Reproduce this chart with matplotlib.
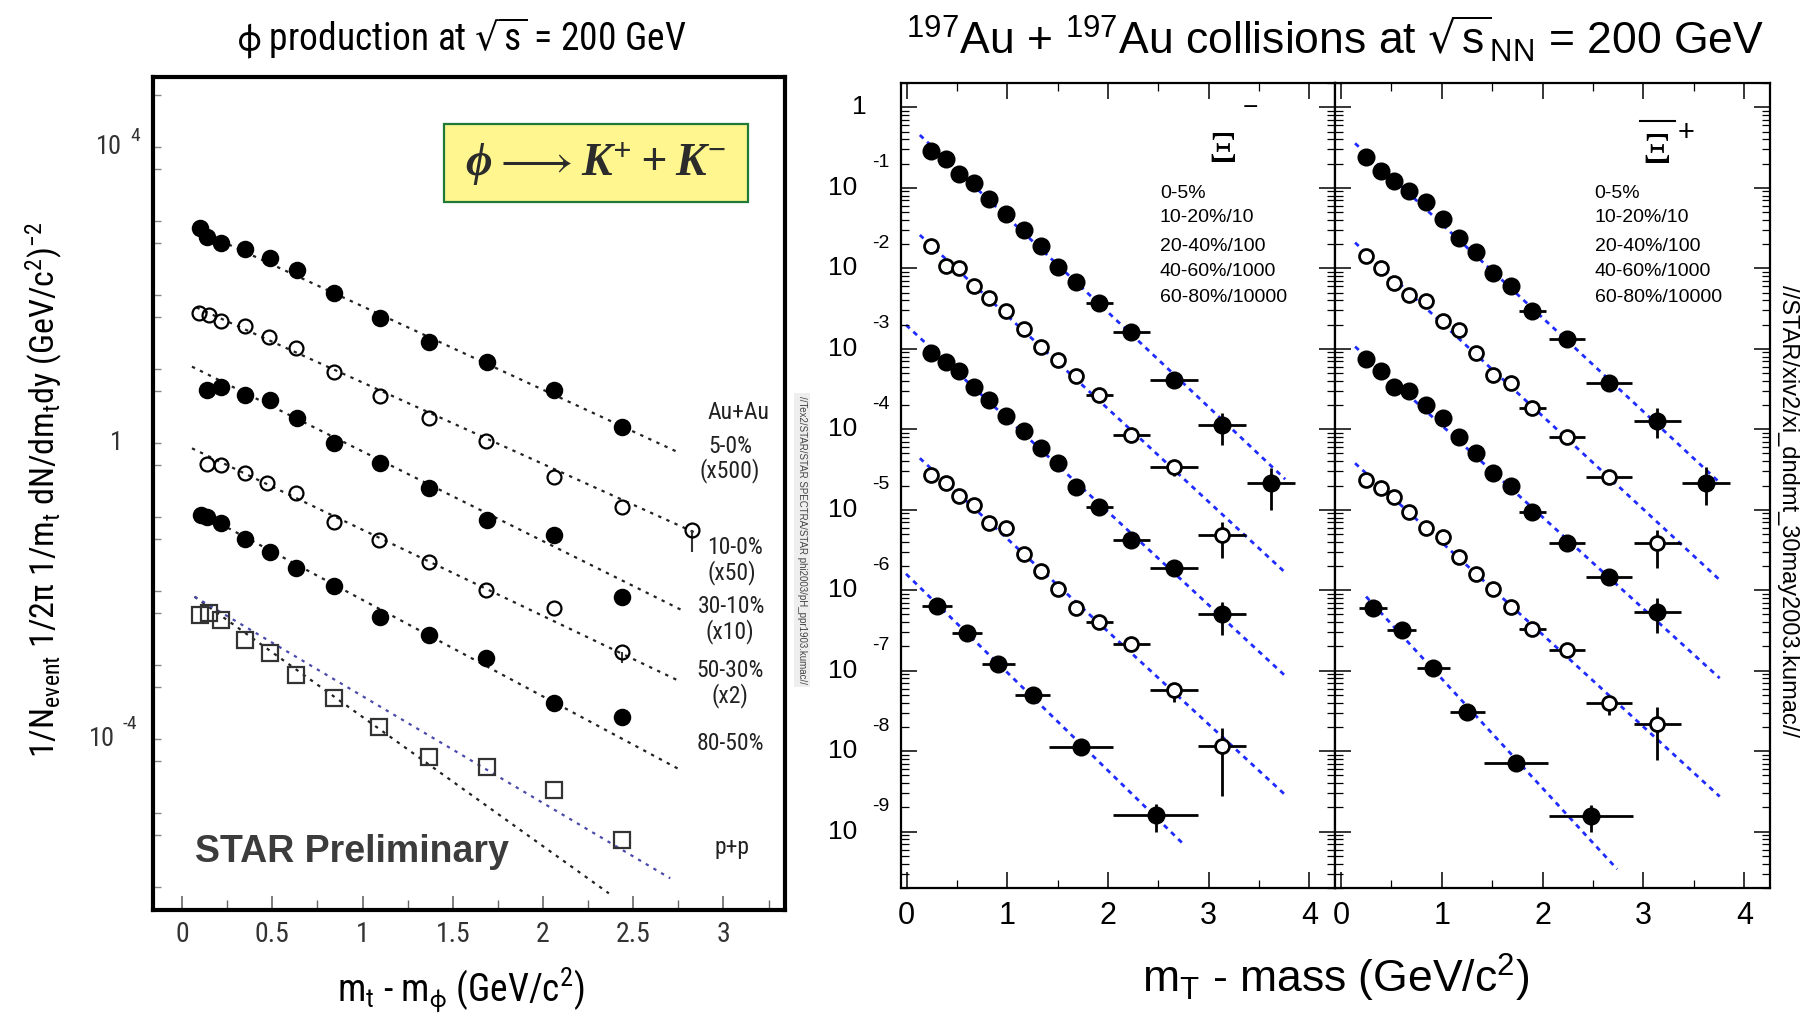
import numpy as np
import matplotlib
matplotlib.use('Agg')
import matplotlib.pyplot as plt
from matplotlib import font_manager as fm
from matplotlib.ticker import MultipleLocator, LogLocator, NullFormatter
from matplotlib.patches import Rectangle

# ---------------- left plot: phi spectra (values are log10 of the yield) ----------------
phi_x_ticks = [0, 0.5, 1, 1.5, 2, 2.5, 3]
phi_x_labels = ['0', '0.5', '1', '1.5', '2', '2.5', '3']

phi_05_x = [0.097, 0.140, 0.216, 0.347, 0.486, 0.636, 0.840, 1.095, 1.367, 1.690, 2.059, 2.439]
phi_05_y = [2.901, 2.779, 2.707, 2.617, 2.495, 2.338, 2.023, 1.685, 1.369, 1.099, 0.716, 0.212]
phi_010_x = [0.092, 0.148, 0.216, 0.347, 0.480, 0.630, 0.840, 1.095, 1.367, 1.685, 2.059, 2.439, 2.824]
phi_010_y = [1.752, 1.730, 1.653, 1.581, 1.437, 1.279, 0.964, 0.635, 0.333, 0.032, -0.464, -0.860, -1.176]
phi_1030_x = [0.140, 0.216, 0.347, 0.486, 0.636, 0.840, 1.095, 1.367, 1.690, 2.059, 2.439]
phi_1030_y = [0.716, 0.761, 0.649, 0.581, 0.333, -0.005, -0.275, -0.613, -1.045, -1.243, -2.077]
phi_3050_x = [0.140, 0.216, 0.347, 0.471, 0.630, 0.840, 1.089, 1.367, 1.685, 2.059, 2.436]
phi_3050_y = [-0.290, -0.300, -0.410, -0.545, -0.680, -1.063, -1.311, -1.604, -1.986, -2.234, -2.820]
phi_5080_x = [0.103, 0.140, 0.216, 0.347, 0.486, 0.630, 0.840, 1.095, 1.367, 1.685, 2.059, 2.436]
phi_5080_y = [-0.973, -0.995, -1.077, -1.302, -1.468, -1.694, -1.932, -2.347, -2.595, -2.910, -3.509, -3.698]
phi_pp_x = [0.097, 0.148, 0.216, 0.347, 0.486, 0.630, 0.840, 1.089, 1.367, 1.690, 2.059, 2.439]
phi_pp_y = [-2.324, -2.302, -2.392, -2.662, -2.842, -3.135, -3.450, -3.833, -4.239, -4.374, -4.689, -5.365]

# dotted exponential fits: (x start, x end), (log y start, log y end)
phi_fit_x = [(0.08, 2.762), (0.08, 2.85), (0.055, 2.762), (0.055, 2.762), (0.08, 2.762), (0.069, 2.365)]
phi_fit_y = [(2.884, -0.140), (1.831, -1.22), (1.032, -2.25), (-0.072, -3.225), (-0.92, -4.419), (-2.077, -6.086)]
phi_pp_fit2_x = (0.069, 2.705)
phi_pp_fit2_y = (-2.077, -5.883)

phi_labels = ['Au+Au', '5-0%', '(x500)', '10-0%', '(x50)', '30-10%', '(x10)', '50-30%', '(x2)', '80-50%', 'p+p']

# ---------------- right plots: Xi spectra (log10 of yield) ----------------
xi_legend = ['0-5%', '10-20%/10', '20-40%/100', '40-60%/1000', '60-80%/10000']
xi_x_ticks = [0, 1, 2, 3, 4]
xi_y_decades = [0, -1, -2, -3, -4, -5, -6, -7, -8, -9]

# Xi- panel
xm_x = [0.240, 0.394, 0.521, 0.672, 0.815, 0.983, 1.164, 1.336, 1.507, 1.678, 1.911, 2.233, 2.654, 3.134, 3.616]
xm_xerr = [0, 0, 0, 0, 0, 0, 0, 0, 0, 0, 0.134, 0.18, 0.235, 0.236, 0.24]
xm_0_5 = [-0.538, -0.646, -0.832, -0.936, -1.143, -1.329, -1.524, -1.718, -1.979, -2.166, -2.427, -2.787, -3.387, -3.946, -4.663]
xm_10_20 = [-1.723, -1.971, -2.000, -2.219, -2.364, -2.526, -2.754, -2.973, -3.139, -3.333, -3.573, -4.070, -4.464, -5.313]
xm_20_40 = [-3.048, -3.159, -3.275, -3.470, -3.636, -3.834, -4.021, -4.236, -4.422, -4.712, -4.969, -5.375, -5.718, -6.294]
xm_40_60 = [-4.567, -4.663, -4.824, -4.940, -5.159, -5.230, -5.549, -5.760, -5.988, -6.216, -6.398, -6.667, -7.246, -7.934]
xm_60_80_x = [0.301, 0.599, 0.908, 1.250, 1.729, 2.473]
xm_60_80_xerr = [0.146, 0.149, 0.163, 0.171, 0.318, 0.423]
xm_60_80 = [-6.195, -6.526, -6.915, -7.300, -7.954, -8.791]
# vertical errors (dex up, dex down) for the last points: {index: (up, down)}
xm_err = [{12: (0.05, 0.05), 13: (0.145, 0.25), 14: (0.178, 0.34)},
          {12: (0.08, 0.12), 13: (0.166, 0.29)},
          {12: (0.05, 0.05), 13: (0.153, 0.26)},
          {12: (0.09, 0.14), 13: (0.22, 0.62)},
          {5: (0.137, 0.207)}]
xm_fit_x = [(0.130, 3.76), (0.130, 3.76), (-0.007, 3.75), (0.130, 3.76), (-0.007, 2.757)]
xm_fit_y = [(-0.344, -4.62), (-1.586, -5.780), (-2.704, -7.052), (-4.360, -8.542), (-5.797, -9.164)]

# anti-Xi+ panel
xp_x = [0.248, 0.396, 0.528, 0.677, 0.842, 1.007, 1.172, 1.337, 1.512, 1.683, 1.898, 2.238, 2.657, 3.135, 3.620]
xp_xerr = [0, 0, 0, 0, 0, 0, 0, 0, 0, 0, 0.132, 0.18, 0.23, 0.234, 0.236]
xp_0_5 = [-0.621, -0.787, -0.915, -1.035, -1.180, -1.387, -1.619, -1.801, -2.062, -2.219, -2.526, -2.882, -3.420, -3.892, -4.663]
xp_10_20 = [-1.847, -2.000, -2.186, -2.331, -2.402, -2.650, -2.766, -3.048, -3.325, -3.420, -3.739, -4.099, -4.596, -5.416]
xp_20_40 = [-3.130, -3.275, -3.470, -3.520, -3.698, -3.863, -4.099, -4.290, -4.547, -4.700, -5.025, -5.416, -5.830, -6.265]
xp_40_60 = [-4.629, -4.733, -4.836, -5.030, -5.230, -5.333, -5.582, -5.797, -5.988, -6.211, -6.485, -6.741, -7.396, -7.661]
xp_60_80_x = [0.314, 0.601, 0.917, 1.254, 1.739, 2.475]
xp_60_80_xerr = [0.137, 0.144, 0.165, 0.172, 0.317, 0.417]
xp_60_80 = [-6.224, -6.493, -6.961, -7.507, -8.149, -8.803]
xp_err = [{12: (0.05, 0.05), 13: (0.153, 0.22), 14: (0.20, 0.28)},
          {12: (0.05, 0.08), 13: (0.166, 0.31)},
          {12: (0.06, 0.06), 13: (0.166, 0.27)},
          {12: (0.075, 0.15), 13: (0.215, 0.45)},
          {5: (0.137, 0.207)}]
xp_fit_x = [(0.139, 3.756), (0.139, 3.756), (0.139, 3.756), (0.139, 3.756), (0.248, 2.739)]
xp_fit_y = [(-0.447, -4.663), (-1.681, -5.872), (-2.973, -7.093), (-4.422, -8.563), (-6.079, -9.466)]

# ---------------- fonts ----------------
names = {f.name for f in fm.fontManager.ttflist}
NARROW = next((n for n in ['Liberation Sans Narrow', 'DejaVu Sans Condensed', 'Roboto Condensed']
               if n in names), 'Liberation Sans')
SANS = ['Liberation Sans', 'DejaVu Sans']
SERIF = ['Liberation Serif', 'DejaVu Serif']
plt.rcParams['font.family'] = SANS
plt.rcParams['mathtext.default'] = 'regular'

W, H = 1801, 1018
fig = plt.figure(figsize=(W / 100, H / 100), dpi=100)
fig.patch.set_facecolor('white')


def px(x0, y0, x1, y1):
    # figure rectangle from pixel corners
    return [x0 / W, 1 - y1 / H, (x1 - x0) / W, (y1 - y0) / H]


# ======================= left panel =======================
axL = fig.add_axes(px(153, 77, 785, 910))
axL.set_yscale('log')
axL.set_xlim(-0.161, 3.341)
axL.set_ylim(10 ** -6.311, 10 ** 4.946)
for s in axL.spines.values():
    s.set_linewidth(3)
axL.set_xticks(phi_x_ticks)
axL.set_xticklabels(phi_x_labels, family=[NARROW, 'DejaVu Sans'], fontsize=20, color='#333333')
axL.xaxis.set_minor_locator(MultipleLocator(0.25))
axL.yaxis.set_major_locator(LogLocator(base=10, numticks=30))
axL.yaxis.set_minor_locator(LogLocator(base=10, subs=(5,), numticks=30))
axL.yaxis.set_major_formatter(NullFormatter())
axL.yaxis.set_minor_formatter(NullFormatter())
axL.tick_params(axis='x', which='major', direction='in', length=10, width=1.2, color='#666666', pad=8)
axL.tick_params(axis='x', which='minor', direction='in', length=7, width=1.0, color='#666666')
axL.tick_params(axis='y', which='both', direction='in', length=6, width=1.0, color='#888888')

dot = (0, (1.5, 2.5))
for (xa, xb), (ya, yb) in zip(phi_fit_x, phi_fit_y):
    axL.plot([xa, xb], [10 ** ya, 10 ** yb], color='#222222', lw=1.6, ls=dot, zorder=1)
axL.plot(phi_pp_fit2_x, [10 ** v for v in phi_pp_fit2_y], color='#4a4aaa', lw=1.6, ls=dot, zorder=1)

phi_sets = [(phi_05_x, phi_05_y, True), (phi_010_x, phi_010_y, False), (phi_1030_x, phi_1030_y, True),
            (phi_3050_x, phi_3050_y, False), (phi_5080_x, phi_5080_y, True)]
for xs, ly, filled in phi_sets:
    axL.plot(xs, 10 ** np.array(ly), ls='none', marker='o', ms=11 if filled else 10,
             mfc='black' if filled else 'none', mec='black', mew=1.6, zorder=3)
axL.plot(phi_pp_x, 10 ** np.array(phi_pp_y), ls='none', marker='s', ms=11,
         mfc='none', mec='#333333', mew=1.6, zorder=3)
# small error tails on the last points
axL.errorbar([phi_010_x[-1]], [10 ** phi_010_y[-1]],
             yerr=[[10 ** phi_010_y[-1] - 10 ** (phi_010_y[-1] - 0.3)], [0]],
             fmt='none', ecolor='#333333', elinewidth=1.5, zorder=2)
axL.errorbar([phi_05_x[-1], phi_3050_x[-1], phi_5080_x[-1]],
             [10 ** phi_05_y[-1], 10 ** phi_3050_y[-1], 10 ** phi_5080_y[-1]],
             yerr=[[10 ** phi_05_y[-1] * 0.2, 10 ** phi_3050_y[-1] * 0.3, 10 ** phi_5080_y[-1] * 0.2], [0, 0, 0]],
             fmt='none', ecolor='#333333', elinewidth=1.5, zorder=2)

# y tick labels drawn the ROOT/PAW way
tl = dict(transform=axL.get_yaxis_transform(), family=[NARROW, 'DejaVu Sans'], color='#333333', va='center')
axL.text(-0.049, 1e4, '10', ha='right', fontsize=19, **tl)
axL.text(-0.036, 10 ** 4.15, '4', ha='left', fontsize=14, **tl)
axL.text(-0.058, 1.0, '1', ha='center', fontsize=19, **tl)
axL.text(-0.060, 1e-4, '10', ha='right', fontsize=19, **tl)
axL.text(-0.049, 10 ** -3.80, '-4', ha='left', fontsize=14, **tl)

# yellow box
axL.add_patch(Rectangle((0.4604, 0.850), 0.4811, 0.0936, transform=axL.transAxes,
                        facecolor='#fff68f', edgecolor='#1f7a3a', lw=1.6, zorder=4))
axL.text(0.701, 0.895, r'$\phi \longrightarrow K^{+} + K^{-}$', transform=axL.transAxes, ha='center',
         va='center', fontsize=33, color='#2b2b2b', family=SERIF, style='italic', weight='bold', zorder=5)

axL.text(0.0665, 0.0696, 'STAR Preliminary', transform=axL.transAxes, ha='left', va='center',
         fontsize=27, fontweight='bold', color='#3c3c3c')

lab_pos = [(0.926, 0.597), (0.913, 0.557), (0.913, 0.528), (0.921, 0.435), (0.916, 0.405), (0.916, 0.364),
           (0.913, 0.334), (0.913, 0.288), (0.913, 0.258), (0.913, 0.200), (0.916, 0.0756)]
for t, (lx, ly) in zip(phi_labels, lab_pos):
    axL.text(lx, ly, t, transform=axL.transAxes, ha='center', va='center', fontsize=17,
             family=[NARROW, 'DejaVu Sans'], color='#222222')

fig.text(462 / W, 1 - 38 / H, r'$\phi$ production at $\sqrt{s}$ = 200 GeV', ha='center', va='center',
         fontsize=27, family=[NARROW, 'DejaVu Sans'])
fig.text(461 / W, 1 - 1000 / H, r'm$_t$ - m$_\phi$ (GeV/c$^2$)', ha='center', va='baseline',
         fontsize=27, family=[NARROW, 'DejaVu Sans'])
fig.text(44 / W, 1 - 490 / H, r'1/N$_{event}$ 1/2$\pi$ 1/m$_t$ dN/dm$_t$dy (GeV/c$^2$)$^{-2}$',
         rotation=90, ha='center', va='center', fontsize=24.5, family=[NARROW, 'DejaVu Sans'])
fig.text(802 / W, 1 - 540 / H, '//Tex2/STAR/STAR SPECTRA/STAR phi2003/pH_ppr1903.kumac//',
         rotation=-90, ha='center', va='center', fontsize=7, color='#444444',
         bbox=dict(facecolor='#eeeeee', edgecolor='none', pad=2))

# ======================= right panels =======================
ax1 = fig.add_axes(px(900.7, 82.7, 1335, 888))
ax2 = fig.add_axes(px(1335, 82.7, 1770, 888))


def style_root(ax):
    ax.set_yscale('log')
    ax.set_xlim(-0.06, 4.255)
    ax.set_ylim(10 ** -9.70, 10 ** 0.306)
    for s in ax.spines.values():
        s.set_linewidth(1.6)
    ax.xaxis.set_major_locator(MultipleLocator(1))
    ax.xaxis.set_minor_locator(MultipleLocator(0.5))
    ax.yaxis.set_major_locator(LogLocator(base=10, numticks=30))
    ax.yaxis.set_minor_locator(LogLocator(base=10, subs=np.arange(2, 10), numticks=30))
    ax.yaxis.set_major_formatter(NullFormatter())
    ax.yaxis.set_minor_formatter(NullFormatter())
    ax.set_xticks(xi_x_ticks)
    ax.set_xticklabels([str(v) for v in xi_x_ticks], fontsize=22, family=SANS)
    ax.tick_params(which='major', direction='in', length=11.5, width=1.1, top=True, right=True, pad=9)
    ax.tick_params(which='minor', direction='in', length=5.5, width=0.9, top=True, right=True)


def draw_panel(ax, xc, xerr, series, x5, xerr5, s5, errs, fit_x, fit_y):
    for (xa, xb), (ya, yb) in zip(fit_x, fit_y):
        ax.plot([xa, xb], [10 ** ya, 10 ** yb], color='#1f2bff', lw=2, ls=(0, (1.8, 1.8)), zorder=1)
    allsets = [(xc[:len(v)], xerr[:len(v)], v) for v in series] + [(x5, xerr5, s5)]
    for k, (xs, xe, ly) in enumerate(allsets):
        ly = np.array(ly)
        up = np.zeros(len(ly))
        dn = np.zeros(len(ly))
        for i, (u, d) in errs[k].items():
            up[i], dn[i] = u, d
        y = 10 ** ly
        yerr = [y - 10 ** (ly - dn), 10 ** (ly + up) - y]
        filled = k % 2 == 0
        ax.errorbar(xs, y, xerr=xe, yerr=yerr, fmt='o', ms=11 if filled else 10,
                    mfc='black' if filled else 'white', mec='black', mew=2,
                    ecolor='black', elinewidth=2, capsize=0, zorder=3)
    for i, t in enumerate(xi_legend):
        ax.text(0.597, [0.863, 0.832, 0.796, 0.766, 0.733][i], t, transform=ax.transAxes,
                ha='left', va='center', fontsize=14, family=SANS)


style_root(ax1)
style_root(ax2)
draw_panel(ax1, xm_x, xm_xerr, [xm_0_5, xm_10_20, xm_20_40, xm_40_60], xm_60_80_x, xm_60_80_xerr,
           xm_60_80, xm_err, xm_fit_x, xm_fit_y)
draw_panel(ax2, xp_x, xp_xerr, [xp_0_5, xp_10_20, xp_20_40, xp_40_60], xp_60_80_x, xp_60_80_xerr,
           xp_60_80, xp_err, xp_fit_x, xp_fit_y)

# Xi labels
ax1.text(0.742, 0.915, '\u039E', transform=ax1.transAxes, ha='center', va='center', fontsize=32, family=SERIF)
ax1.text(0.806, 0.968, '\u2212', transform=ax1.transAxes, ha='center', va='center', fontsize=19)
ax2.text(0.740, 0.914, '\u039E', transform=ax2.transAxes, ha='center', va='center', fontsize=32, family=SERIF)
ax2.plot([0.700, 0.781], [0.953, 0.953], transform=ax2.transAxes, color='black', lw=1.5)
ax2.text(0.806, 0.9375, '+', transform=ax2.transAxes, ha='center', va='center', fontsize=21)

# y tick labels of the Xi panels
yt = dict(transform=ax1.get_yaxis_transform(), va='center', family=SANS)
for d in xi_y_decades:
    if d == 0:
        ax1.text(-0.078, 1.0, '1', ha='right', fontsize=19, **yt)
    else:
        ax1.text(-0.100, 10.0 ** d, '10', ha='right', fontsize=19, **yt)
        ax1.text(-0.066, 10.0 ** (d + 0.31), str(d), ha='left', fontsize=14, **yt)

fig.text(1335 / W, 1 - 55 / H, r'$^{197}$Au + $^{197}$Au collisions at $\sqrt{s}_{NN}$ = 200 GeV',
         ha='center', va='baseline', fontsize=32)
fig.text(1336 / W, 1 - 993 / H, r'm$_T$ - mass (GeV/c$^2$)', ha='center', va='baseline', fontsize=32)
fig.text(1788 / W, 1 - 511 / H, '//STAR/xiv2/xi_dndmt_30may2003.kumac//', rotation=-90,
         ha='center', va='center', fontsize=17)

fig.savefig('out.png', dpi=100)
